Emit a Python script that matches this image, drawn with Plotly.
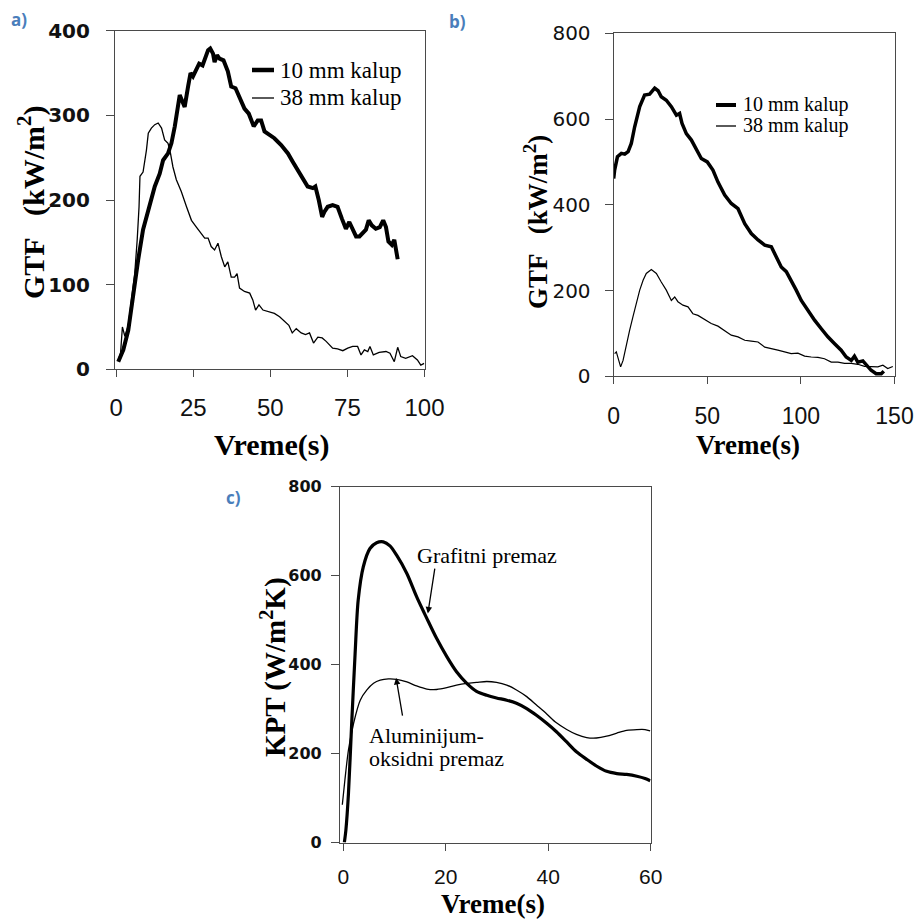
import plotly.graph_objects as go

W, H = 918, 920

# ---- panel a: GTF vs time, 10 mm and 38 mm moulds ----
a_t10 = [0.65, 2.3, 3.9, 5.5, 7.1, 8.7, 10.4, 11.4, 12.5, 14.1, 15.2, 16.8, 17.9, 19.0, 20.1, 20.6,
         21.5, 22.2, 23.3, 24.1, 24.9, 25.9, 26.9, 28.0, 29.0, 29.8, 30.5, 31.4, 31.9, 32.7, 33.5,
         34.8, 36.2, 37.3, 38.7, 40.0, 41.6, 43.0, 44.6, 45.9, 47.0, 48.1, 49.7, 51.3, 53.5, 55.7,
         57.3, 58.9, 60.5, 62.1, 63.8, 64.6, 65.7, 66.8, 67.5, 68.6, 70.2, 71.8, 73.2, 74.5, 75.6,
         76.7, 77.8, 78.9, 79.9, 81.0, 81.9, 82.9, 84.2, 85.5, 86.6, 87.5, 88.3, 89.4, 90.2, 90.7, 91.3]
a_q10 = [9, 23, 46, 90, 129, 165, 186, 200, 216, 231, 247, 255, 267, 287, 318, 324,
         316, 310, 334, 350, 346, 354, 361, 359, 369, 377, 379, 373, 363, 371, 367,
         365, 352, 334, 332, 322, 308, 302, 287, 294, 294, 281, 277, 273, 265, 255,
         245, 235, 224, 216, 214, 216, 200, 180, 186, 192, 194, 192, 178, 166, 174,
         165, 157, 157, 161, 165, 176, 170, 166, 168, 176, 168, 151, 147, 153, 141, 130]

a_t38 = [0.65, 1.4, 2.0, 2.8, 3.9, 5.0, 6.0, 6.8, 7.4, 7.7, 8.7, 9.8, 10.4, 11.4, 12.5, 13.6,
         14.7, 15.7, 16.8, 17.6, 18.4, 19.5, 21.1, 22.8, 24.4, 26.0, 27.6, 28.7, 29.8, 30.8, 31.9,
         33.0, 34.1, 35.2, 36.2, 37.3, 38.4, 39.2, 40.0, 41.6, 43.3, 44.3, 45.2, 46.3, 47.6, 49.2,
         51.3, 53.0, 54.6, 56.0, 57.1, 58.4, 60.0, 61.4, 62.7, 64.0, 65.4, 66.8, 68.1, 70.2, 71.8,
         73.5, 75.1, 76.7, 78.3, 79.4, 80.5, 81.6, 82.3, 83.4, 85.3, 87.5, 88.8, 90.2, 91.3, 92.3,
         93.9, 96.1, 97.7, 98.8, 99.9]
a_q38 = [11, 19, 50, 39, 52, 82, 113, 153, 192, 228, 233, 259, 279, 285, 289, 291,
         285, 271, 267, 255, 239, 224, 210, 192, 176, 168, 161, 155, 155, 145, 141,
         149, 133, 121, 127, 109, 109, 113, 96, 92, 90, 82, 70, 76, 70, 68,
         66, 62, 56, 52, 43, 48, 43, 41, 43, 31, 38, 37, 33, 25, 24,
         22, 25, 27, 27, 17, 23, 21, 27, 17, 20, 21, 19, 9, 26, 15,
         13, 16, 11, 5, 7]

# ---- panel b: GTF vs time, longer casting ----
b_t10 = [0, 0.5, 2.0, 4.1, 5.9, 7.7, 9.4, 11.2, 13.9, 16.5, 19.2, 21.9, 23.7, 25.4, 28.1, 30.8,
         33.5, 35.2, 36.5, 38.8, 41.5, 44.1, 46.8, 50.0, 53.0, 55.7, 59.3, 62.8, 66.4, 70.0, 73.5,
         77.1, 80.7, 84.2, 86.9, 89.5, 92.2, 94.8, 97.5, 100.2, 103.7, 107.3, 110.9, 114.4, 118.0,
         121.5, 124.2, 126.9, 128.6, 130.4, 133.1, 135.4, 137.5, 140.2, 142.9, 144.3]
b_q10 = [461, 481, 512, 520, 518, 524, 543, 582, 629, 656, 658, 672, 666, 652, 644, 629,
         609, 613, 590, 566, 551, 528, 508, 500, 481, 453, 423, 403, 391, 356, 333,
         318, 306, 302, 279, 255, 244, 224, 201, 177, 154, 131, 111, 92, 76,
         61, 45, 37, 47, 33, 36, 23, 14, 6, 6, 12]

b_t38 = [0.5, 1.4, 2.7, 3.7, 5.0, 6.8, 8.5, 10.3, 12.1, 13.9, 15.7, 17.4, 20.1, 22.8, 25.4, 28.1,
         30.8, 32.6, 34.3, 37.0, 39.7, 42.3, 45.0, 48.6, 52.1, 55.7, 59.3, 62.8, 66.4, 70.0, 73.5,
         77.1, 80.7, 84.2, 87.7, 91.3, 94.8, 98.4, 102.0, 105.5, 109.1, 112.6, 116.2, 119.8, 123.3,
         126.9, 130.4, 134.0, 137.5, 141.1, 143.8, 146.4, 149.1]
b_q38 = [53, 57, 37, 22, 37, 76, 107, 139, 170, 201, 224, 240, 249, 240, 220, 201,
         177, 185, 174, 166, 162, 146, 142, 132, 123, 117, 107, 96, 92, 84, 82,
         80, 68, 65, 61, 57, 53, 54, 47, 45, 44, 41, 33, 33, 30,
         30, 28, 23, 22, 22, 26, 18, 23]

# ---- panel c: heat transfer coefficient for two coatings ----
c_t_graf = [0.2, 0.5, 1.0, 1.6, 2.3, 2.9, 3.9, 5.2, 6.5, 7.8, 9.1, 10.4, 12.4, 14.3, 16.3, 18.2,
            20.2, 22.1, 24.1, 26.0, 28.0, 29.9, 31.9, 33.8, 35.8, 37.7, 39.7, 41.6, 43.6, 45.5,
            47.5, 49.4, 51.4, 53.4, 55.3, 57.3, 58.9, 59.9]
c_h_graf = [0, 28, 110, 260, 425, 545, 620, 661, 674, 676, 667, 646, 605, 553, 504, 459,
            418, 384, 358, 340, 331, 325, 320, 313, 301, 286, 268, 249, 226, 204,
            187, 172, 160, 155, 153, 149, 144, 139]

c_t_al = [-0.2, 0.3, 1.0, 2.0, 3.3, 4.6, 5.9, 7.2, 8.8, 10.4, 12.4, 14.3, 16.3, 18.2, 20.2, 22.1,
          24.1, 26.0, 28.0, 29.9, 31.9, 33.8, 35.8, 37.7, 39.7, 41.6, 43.6, 45.5, 47.5, 49.4,
          51.4, 53.4, 55.3, 57.3, 58.9, 59.9]
c_h_al = [85, 140, 208, 268, 320, 343, 358, 365, 368, 367, 361, 352, 345, 344, 348, 354,
          358, 360, 362, 360, 354, 343, 328, 309, 289, 269, 254, 243, 236, 235,
          239, 246, 252, 254, 254, 251]

a_ticks = [0, 25, 50, 75, 100]
a_yticks = [0, 100, 200, 300, 400]
b_ticks = [0, 50, 100, 150]
b_yticks = [0, 200, 400, 600, 800]
c_ticks = [0, 20, 40, 60]
c_yticks = [0, 200, 400, 600, 800]

series_names = ["10 mm kalup", "38 mm kalup"]
coat_names = ["Grafitni premaz", "Aluminijum-", "oksidni premaz"]
panel_tags = ["a)", "b)", "c)"]
x_title = "Vreme(s)"
gtf_title = "GTF   (kW/m<sup>2</sup>)"
kpt_title = "KPT (W/m<sup>2</sup>K)"


def px(x):
    return x / W


def py(y):
    return 1 - y / H


SERIF = "Liberation Serif"
FRAME = "#4a4a4a"

fig = go.Figure()
fig.add_trace(go.Scatter(x=a_t10, y=a_q10, mode="lines", line=dict(color="black", width=4),
                         xaxis="x", yaxis="y", showlegend=False))
fig.add_trace(go.Scatter(x=a_t38, y=a_q38, mode="lines", line=dict(color="black", width=1.3),
                         xaxis="x", yaxis="y", showlegend=False))
fig.add_trace(go.Scatter(x=b_t10, y=b_q10, mode="lines", line=dict(color="black", width=3.5),
                         xaxis="x2", yaxis="y2", showlegend=False))
fig.add_trace(go.Scatter(x=b_t38, y=b_q38, mode="lines", line=dict(color="black", width=1.2),
                         xaxis="x2", yaxis="y2", showlegend=False))
fig.add_trace(go.Scatter(x=c_t_graf, y=c_h_graf, mode="lines",
                         line=dict(color="black", width=3.2, shape="spline", smoothing=0.8),
                         xaxis="x3", yaxis="y3", showlegend=False))
fig.add_trace(go.Scatter(x=c_t_al, y=c_h_al, mode="lines",
                         line=dict(color="black", width=1.3, shape="spline", smoothing=0.8),
                         xaxis="x3", yaxis="y3", showlegend=False))


def xaxis(domain, rng, ticks, size, standoff, anchor):
    return dict(domain=domain, range=rng, tickvals=ticks, ticks="outside", ticklen=7,
                tickwidth=1.3, tickcolor=FRAME, showline=True, linecolor=FRAME, linewidth=1.2,
                mirror=True, showgrid=False, zeroline=False, anchor=anchor, automargin=False,
                tickfont=dict(family="Liberation Sans", size=size, color="#111"),
                ticklabelstandoff=standoff)


def yaxis(domain, rng, ticks, font, standoff, anchor):
    return dict(domain=domain, range=rng, tickvals=ticks, ticks="outside", ticklen=8,
                tickwidth=1.3, tickcolor=FRAME, showline=True, linecolor=FRAME, linewidth=1.2,
                mirror=True, showgrid=False, zeroline=False, anchor=anchor, tickfont=font,
                automargin=False, ticklabelstandoff=standoff)


fig.update_layout(
    width=W, height=H, margin=dict(l=0, r=0, t=0, b=0, pad=0, autoexpand=False),
    paper_bgcolor="white", plot_bgcolor="white",
    xaxis=xaxis([px(115), px(424.5)], [-0.4, 100], a_ticks, 24, 10, "y"),
    yaxis=yaxis([py(369.3), py(30.7)], [0, 400], a_yticks,
                dict(family="DejaVu Sans", size=20, color="#111", weight="bold"), 12, "x"),
    xaxis2=xaxis([px(613.7), px(894.5)], [0, 150], b_ticks, 23, 12, "y2"),
    yaxis2=yaxis([py(376.3), py(33.3)], [0, 800], b_yticks,
                 dict(family="DejaVu Sans", size=20, color="#111"), 10, "x2"),
    xaxis3=xaxis([px(340), px(650.7)], [-0.65, 60], c_ticks, 21, 8, "y3"),
    yaxis3=yaxis([py(842.5), py(486.7)], [0, 800], c_yticks,
                 dict(family="DejaVu Sans", size=16, color="#111", weight="bold"), 6, "x3"),
)

ann = []


def label(xp, yp, text, font, angle=0, xanchor="center"):
    ann.append(dict(x=px(xp), y=py(yp), xref="paper", yref="paper", text=text,
                    textangle=angle, xanchor=xanchor, yanchor="middle",
                    showarrow=False, font=font))


# axis titles
title_font = lambda s: dict(family=SERIF, size=s, color="black", weight="bold")
label(272, 445, x_title, title_font(30))
label(32, 202, gtf_title, title_font(30), angle=-90)
label(748, 445, x_title, title_font(27))
label(536, 222, gtf_title, title_font(27), angle=-90)
label(493, 904, x_title, title_font(27))
label(273, 667, kpt_title, title_font(29), angle=-90)

# panel tags
tag_font = dict(family="Open Sans", size=17, color="#4a7ebb", weight="bold")
for tag, (tx, ty) in zip(panel_tags, [(19, 20), (457, 21), (233, 497)]):
    label(tx, ty, tag, tag_font)

# legend entries drawn as line samples + labels
shapes = []
legend_specs = [
    # (line x0, line x1, y row1, y row2, text x, font size, thick width)
    (252, 274, 70, 98, 278, 23, 4.5),
    (716, 736, 105, 126, 741, 20, 4.0),
]
for x0, x1, y1, y2, tx, fs, lw in legend_specs:
    for name, yy, w in zip(series_names, [y1, y2], [lw, 1.3]):
        shapes.append(dict(type="line", xref="paper", yref="paper", x0=px(x0), x1=px(x1),
                           y0=py(yy), y1=py(yy), line=dict(color="black", width=w)))
        label(tx, yy, name, dict(family=SERIF, size=fs, color="black"), xanchor="left")

# panel c labels with pointer arrows
lab_font = dict(family=SERIF, size=22, color="black")
for text, (tx, ty) in zip(coat_names, [(14.0, 646), (4.6, 241), (4.6, 190)]):
    ann.append(dict(x=tx, y=ty, xref="x3", yref="y3", text=text, xanchor="left",
                    yanchor="middle", showarrow=False, font=lab_font))
ann.append(dict(x=16.5, y=515, ax=17.9, ay=619, xref="x3", yref="y3", axref="x3", ayref="y3",
                text="", showarrow=True, arrowhead=2, arrowsize=1, arrowwidth=1.3,
                arrowcolor="black"))
ann.append(dict(x=10.3, y=370, ax=11.6, ay=282, xref="x3", yref="y3", axref="x3", ayref="y3",
                text="", showarrow=True, arrowhead=2, arrowsize=1, arrowwidth=1.3,
                arrowcolor="black"))

fig.update_layout(annotations=ann, shapes=shapes)
fig.write_html("out.html")
